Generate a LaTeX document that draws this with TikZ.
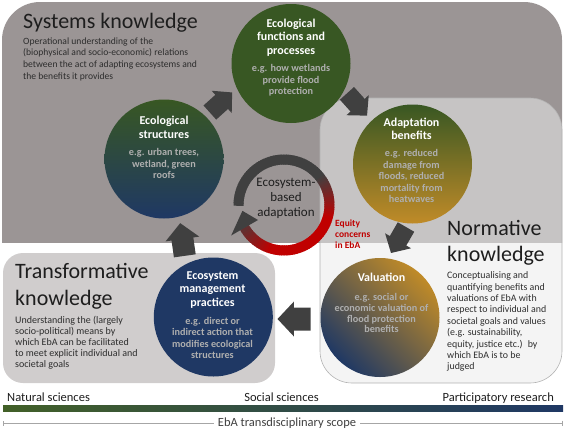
\documentclass[tikz,border=0pt]{standalone}
\usepackage{fontspec}
\setmainfont{Carlito}
\usetikzlibrary{calc,arrows.meta}
\definecolor{sysgray}{RGB}{155,149,149}
\definecolor{normfill}{RGB}{235,235,235}
\definecolor{trgray}{RGB}{208,205,205}
\definecolor{ebgreen}{RGB}{56,87,35}
\definecolor{bargreen}{RGB}{66,96,40}
\definecolor{ebnavy}{RGB}{31,56,100}
\definecolor{ebgold}{RGB}{192,139,40}
\definecolor{arrowgray}{RGB}{64,64,64}
\definecolor{ringred}{RGB}{192,0,0}
\definecolor{subgray}{RGB}{175,175,175}
\definecolor{txtdark}{RGB}{30,30,30}
\definecolor{txtmid}{RGB}{45,45,45}
\newcommand{\BlkArr}[5]{% coordinate, angle, length, head width, shaft width
  \begin{scope}[shift={(#1)}, rotate=#2]
    \fill[arrowgray] (-#3/2,-#5/2) -- (#3/2-#4*0.47,-#5/2) -- (#3/2-#4*0.47,-#4/2) -- (#3/2,0)
      -- (#3/2-#4*0.47,#4/2) -- (#3/2-#4*0.47,#5/2) -- (-#3/2,#5/2) -- cycle;
  \end{scope}}
\begin{document}
\begin{tikzpicture}[x=1pt,y=-1pt,
  circ/.style={circle, inner sep=0pt, minimum size=119pt},
  ctitle/.style={inner sep=0pt, anchor=north, align=center, text=white,
    font=\fontsize{12}{13.6}\selectfont\bfseries},
  csub/.style={inner sep=0pt, anchor=north, align=center, text=subgray,
    font=\fontsize{10.2}{11.5}\selectfont\bfseries},
  bigtitle/.style={inner sep=0pt, anchor=north west, align=left, text=txtdark},
  desc/.style={inner sep=0pt, anchor=north west, align=left, text=txtmid},
  bottomlbl/.style={inner sep=0pt, text=txtdark, font=\fontsize{12.5}{15}\selectfont}
]
\useasboundingbox (0,0) rectangle (565,429);

% ---- knowledge boxes
\begin{scope}
  \clip (0,0) rectangle (565,242);
  \fill[sysgray, rounded corners=38pt] (2,2) rectangle (562,300);
\end{scope}
\filldraw[fill=normfill, fill opacity=0.55, draw=gray!60, line width=0.6pt, rounded corners=32pt] (320,98) rectangle (562,383);
\fill[trgray, rounded corners=20pt] (3,253) rectangle (275,383);

% ---- circles
\node[circ, fill=ebgreen] (ef) at (291,63.5) {};
\node[circ, top color=ebgreen, bottom color=ebnavy] (es) at (164,159) {};
\node[circ, top color=ebgreen, bottom color=ebgold] (ab) at (412.5,164) {};
\node[circ, left color=ebnavy, right color=ebgold, shading angle=135] (val) at (380,317.5) {};
\node[circ, fill=ebnavy] (emp) at (213.3,317) {};

% ---- block arrows
\coordinate (a1) at (221,102.5);
\coordinate (a2) at (357,104.5);
\coordinate (a3) at (398.5,240);
\coordinate (a4) at (294,319);
\coordinate (a5) at (182.5,239.5);
\BlkArr{a1}{42}{30}{30}{19}
\BlkArr{a2}{-48}{30}{30}{19}
\BlkArr{a3}{-120}{30}{30}{19}
\BlkArr{a4}{180}{33}{35}{23}
\BlkArr{a5}{98}{33}{34}{22}

% ---- central ring
\coordinate (rc) at (284,205);
\foreach \a in {181,178,...,-146}{
  \pgfmathsetmacro\t{ifthenelse(\a>40,0,ifthenelse(\a>-15,(40-(\a))/55*100,ifthenelse(\a>-105,100,100-(-105-(\a))/45*80)))}
  \draw[line width=10pt, draw={ringred!\t!arrowgray}] ([shift={(\a:45.5pt)}]rc) arc[start angle=\a, end angle=\a-4.5, radius=45.5pt];
}
\fill[arrowgray] ($(rc)+(210:61pt)$) -- ($(rc)+(210:30pt)$) -- ($(rc)+(188:42pt)$) -- cycle;
\node[inner sep=0pt, anchor=north, align=center, text=txtdark, font=\fontsize{13}{15}\selectfont] (eba) at (286,176.2) {\strut Ecosystem-\\based\\adaptation};
\node[inner sep=0pt, anchor=north west, align=left, text=ringred, font=\fontsize{9.5}{10.8}\selectfont\bfseries] (eq) at (335,219.1) {\strut Equity\\concerns\\in EbA};

% ---- circle texts
\node[ctitle] (eft) at (291,17.5) {\strut Ecological\\functions and\\processes};
\node[csub] (efs) at (291,63.6) {\strut e.g. how wetlands\\provide flood\\protection};
\node[ctitle] (est) at (164,114.8) {\strut Ecological\\structures};
\node[csub] (ess) at (164,147.6) {\strut e.g. urban trees,\\wetland, green\\roofs};
\node[ctitle] (abt) at (411.5,116.5) {\strut Adaptation\\benefits};
\node[csub] (abs) at (411.5,148.6) {\strut e.g. reduced\\damage from\\floods, reduced\\mortality from\\heatwaves};
\node[ctitle] (valt) at (381.5,271.5) {\strut Valuation};
\node[csub, font=\fontsize{10.2}{10.9}\selectfont\bfseries] (vals) at (381.5,292.4) {\strut e.g. social or\\economic valuation of\\flood protection\\benefits};
\node[ctitle] (empt) at (212.5,269.5) {\strut Ecosystem\\management\\practices};
\node[csub] (emps) at (212.5,316.2) {\strut e.g. direct or\\indirect action that\\modifies ecological\\structures};

% ---- knowledge texts
\node[inner sep=0pt, anchor=base west, text=txtdark, font=\fontsize{22}{26}\selectfont] (syst) at (23,28.5) {Systems knowledge};
\node[desc, font=\fontsize{9.6}{11.6}\selectfont] (sysd) at (23,35.9) {\strut Operational understanding of the\\(biophysical and socio-economic) relations\\between the act of adapting ecosystems and\\the benefits it provides};
\node[bigtitle, font=\fontsize{22}{26.7}\selectfont] (normt) at (447,216.3) {\strut Normative\\knowledge};
\node[desc, font=\fontsize{9.9}{11.4}\selectfont] (normd) at (447,270.5) {\strut Conceptualising and\\quantifying benefits and\\valuations of EbA with\\respect to individual and\\societal goals and values\\(e.g. sustainability,\\equity, justice etc.)~ by\\which EbA is to be\\judged};
\node[bigtitle, font=\fontsize{22}{27}\selectfont] (trt) at (15,259.1) {\strut Transformative\\knowledge};
\node[desc, font=\fontsize{10}{11.1}\selectfont] (trd) at (15,315.2) {\strut Understanding the (largely\\socio-political) means by\\which EbA can be facilitated\\to meet explicit individual and\\societal goals};

% ---- bottom scale
\node[bottomlbl, anchor=base west] (nat) at (7,401) {Natural sciences};
\node[bottomlbl, anchor=base] (soc) at (281.5,401) {Social sciences};
\node[bottomlbl, anchor=base east] (par) at (554,401) {Participatory research};
\shade[left color=bargreen, middle color=ebgold, right color=ebnavy] (3,405.5) rectangle (563,411.5);
\coordinate (sl) at (3,423);
\coordinate (sr) at (563,423);
\draw[gray!70, line width=0.6pt, {Bar[width=5pt]}-{Bar[width=5pt]}] (sl) -- (sr);
\node[fill=white, inner xsep=4pt, inner ysep=1pt, anchor=base, text=arrowgray, font=\fontsize{12.5}{15}\selectfont] (scope) at (287,426.5) {EbA transdisciplinary scope};
\end{tikzpicture}
\end{document}
